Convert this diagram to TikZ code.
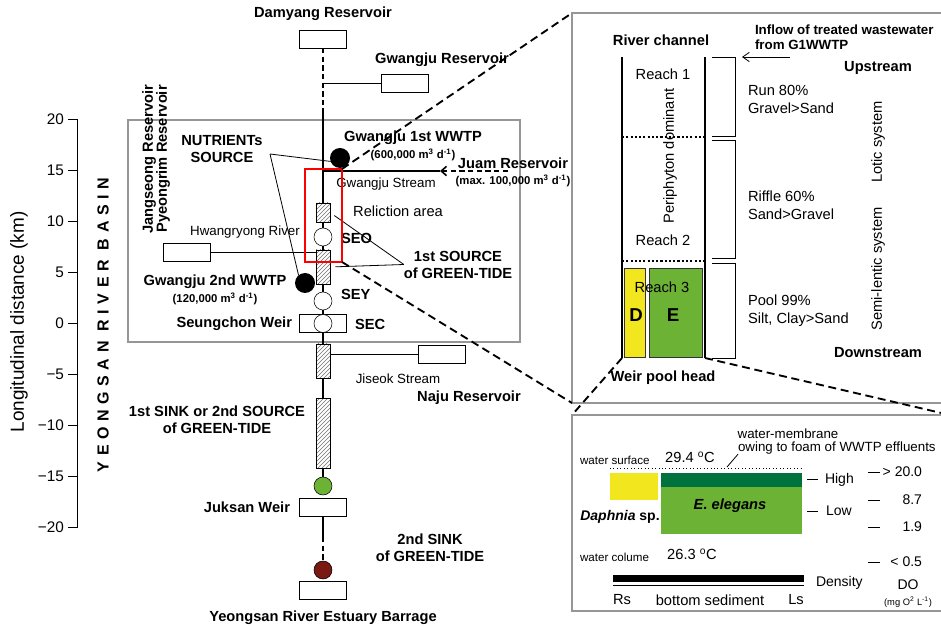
\documentclass[tikz,border=0pt]{standalone}
\usepackage{fontspec}
\setmainfont{Liberation Sans}
\newfontfamily\spacedfont[LetterSpace=35]{Liberation Sans}
\usetikzlibrary{patterns,arrows.meta}

\definecolor{algagreen}{RGB}{108,178,52}
\definecolor{filmgreen}{RGB}{0,114,62}
\definecolor{daphyellow}{RGB}{242,230,30}
\definecolor{sinkred}{RGB}{122,24,18}
\definecolor{framegrey}{RGB}{150,150,150}

\begin{document}
\begin{tikzpicture}[x=0.75pt, y=-0.75pt,
    every node/.style={inner sep=0pt, outer sep=0pt},
    lbl/.style={font=\bfseries\fontsize{11}{12.75}\selectfont, align=center},
    txt/.style={font=\fontsize{11}{13.5}\selectfont, align=left},
    scaletxt/.style={font=\fontsize{10.5}{12}\selectfont},
    smalltxt/.style={font=\fontsize{10}{12}\selectfont},
    tinytxt/.style={font=\fontsize{8.7}{10}\selectfont},
    capacity/.style={font=\bfseries\fontsize{8.5}{10}\selectfont},
    weir/.style={draw, fill=white, minimum width=35.25pt, minimum height=13.5pt},
    site/.style={circle, draw, fill=white, minimum size=13.5pt},
    wwtp/.style={circle, fill=black, minimum size=15pt},
    hatchbox/.style={draw, pattern=north east lines, pattern color=black!55, minimum width=10.5pt},
    river/.style={line width=1.4pt},
    riverdash/.style={line width=1.4pt, dash pattern=on 4pt off 2.5pt},
    zoomline/.style={line width=1.4pt, dash pattern=on 6pt off 3.5pt},
    thinline/.style={line width=0.6pt},
    channel/.style={line width=1.3pt},
    reachline/.style={line width=1.6pt, dash pattern=on 1.6pt off 1.6pt},
]
    \useasboundingbox (0,0) rectangle (941,630);
    \clip (0,0) rectangle (941,630);

    % variables
    \def\rivx{323}   % river course
    \def\kmzero{323} % 0 km on the axis
    \def\kmstep{10.2}

    % Axis of longitudinal distance
    \draw[thinline] (77,119) -- (77,528);
    \foreach \v/\t in {20/20,15/15,10/10,5/5,0/0,-5/−5,-10/−10,-15/−15,-20/−20}
        \draw[thinline] (68,{\kmzero-\kmstep*\v}) -- (77,{\kmzero-\kmstep*\v})
            node[pos=0, anchor=east, xshift=-3pt, font=\fontsize{11.5}{13}\selectfont] {\t};
    \node[rotate=90, font=\fontsize{14.2}{16}\selectfont] (axtitle) at (19,322) {Longitudinal distance (km)};
    \node[rotate=90, font=\spacedfont\bfseries\fontsize{12}{14}\selectfont] (basin) at (103,325) {YEONGSAN RIVER BASIN};

    % Grey frame round the upper basin
    \draw[framegrey, line width=0.8pt] (128,120) rectangle (520,342);

    % Reservoirs, weirs and sites along the river
    \node[weir] (damyang) at (\rivx,39) {};
    \node[lbl] (damlbl) at (\rivx,14) {Damyang Reservoir};
    \node[weir] (gwrsv) at (404.5,83) {};
    \node[lbl] (gwrlbl) at (442,60) {Gwangju Reservoir};
    \node[wwtp] (gw1) at (340,158) {};
    \node[lbl] (gw1lbl) at (413,138) {Gwangju 1st WWTP};
    \node[capacity] (gw1cap) at (413,155) {(600,000 m\textsuperscript{3} d\textsuperscript{-1})};
    \node[lbl] (juamlbl) at (513,163) {Juam Reservoir};
    \node[capacity] (juamcap) at (513,181) {(max. 100,000 m\textsuperscript{3} d\textsuperscript{-1})};
    \node[smalltxt] (gwstream) at (386,184) {Gwangju Stream};

    \node[hatchbox, minimum height=14.25pt] (hat1) at (\rivx,212.5) {};
    \node[txt] (reliction) at (398,211) {Reliction area};
    \node[site] (seo) at (\rivx,237) {};
    \node[lbl, anchor=west] (seolbl) at (341,238) {SEO};
    \node[hatchbox, minimum height=25.5pt] (hat2) at (\rivx,267) {};
    \node[site] (sey) at (\rivx,301) {};
    \node[lbl, anchor=west] (seylbl) at (341,294) {SEY};
    \node[weir] (secweir) at (\rivx,323.5) {};
    \node[site] (sec) at (\rivx,323.5) {};
    \node[lbl, anchor=west] (seclbl) at (355,324) {SEC};
    \node[lbl, anchor=east] (seungchon) at (292,324) {Seungchon Weir};

    \node[wwtp] (gw2) at (305,283) {};
    \node[lbl] (gw2lbl) at (215,282) {Gwangju 2nd WWTP};
    \node[capacity] (gw2cap) at (215,299) {(120,000 m\textsuperscript{3} d\textsuperscript{-1})};

    \node[weir] (hwang) at (186.5,252) {};
    \node[smalltxt] (hwanglbl) at (245,232) {Hwangryong River};
    \node[lbl, rotate=90] (jangseong) at (149,159) {Jangseong Reservoir};
    \node[lbl, rotate=90] (pyeongrim) at (163,159) {Pyeongrim Reservoir};
    \node[lbl] (nutrlbl) at (222,149.5) {NUTRIENTs\\SOURCE};
    \node[lbl] (srclbl) at (458,264.5) {1st SOURCE\\of GREEN-TIDE};

    \node[hatchbox, minimum height=25.5pt] (hat3) at (\rivx,361) {};
    \node[weir] (jiseok) at (442,354) {};
    \node[smalltxt] (jiseoklbl) at (398,379) {Jiseok Stream};
    \node[lbl] (naju) at (469,398) {Naju Reservoir};
    \node[hatchbox, minimum height=52.5pt] (hat4) at (\rivx,433) {};
    \node[lbl] (sink1) at (217,419.5) {1st SINK or 2nd SOURCE\\of GREEN-TIDE};
    \node[site, fill=algagreen] (juksite) at (\rivx,486) {};
    \node[weir] (juksan) at (\rivx,507) {};
    \node[lbl, anchor=east] (juksanlbl) at (290,507) {Juksan Weir};
    \node[lbl] (sink2) at (430,548) {2nd SINK\\of GREEN-TIDE};
    \node[site, fill=sinkred] (estsite) at (\rivx,570) {};
    \node[weir] (barrage) at (\rivx,590) {};
    \node[lbl] (barragelbl) at (\rivx,618) {Yeongsan River Estuary Barrage};

    % River course
    \coordinate (rivdash) at (\rivx,108);
    \coordinate (gwjoin) at (\rivx,83);
    \coordinate (gsjoin) at (\rivx,171);
    \coordinate (juamend) at (440,171);
    \coordinate (juamstart) at (508,171);
    \coordinate (lowdash) at (\rivx,537);
    \draw[riverdash] (damyang.south) -- (rivdash);
    \draw[river] (rivdash) -- (hat1.north);
    \draw[river] (hat1.south) -- (seo.north);
    \draw[river] (seo.south) -- (hat2.north);
    \draw[river] (hat2.south) -- (sey.north);
    \draw[river] (sey.south) -- (sec.north);
    \draw[river] (sec.south) -- (hat3.north);
    \draw[river] (hat3.south) -- (hat4.north);
    \draw[river] (hat4.south) -- (juksite.north);
    \draw[river] (juksan.south) -- (lowdash);
    \draw[riverdash] (lowdash) -- (estsite.north);

    % Tributaries
    \draw[thinline] (gwjoin) -- (gwrsv.west);
    \draw[thinline] (hwang.east) -- (hwang.east -| hat2.west);
    \draw[thinline] (hat3.east |- jiseok.west) -- (jiseok.west);
    \draw[line width=1pt] (gsjoin) -- (juamend);
    \draw[line width=1.2pt, dash pattern=on 4pt off 2.5pt, -{Straight Barb[length=4pt,width=7pt]}] (juamstart) -- (juamend);

    % Leaders
    \coordinate (nutrtip) at (270,154);
    \draw[thinline] (nutrtip) -- (gw1.200);
    \draw[thinline] (nutrtip) -- (gw2.130);
    \draw[thinline, shorten >=4pt] (srclbl.west) -- (hat1.east);
    \draw[thinline, shorten >=4pt] (srclbl.west) -- (hat2.east);

    % Zoom from the reach
    \coordinate (zb1) at (305,169);
    \coordinate (zb2) at (342,262);
    \draw[red, line width=0.9pt] (zb1) rectangle (zb2);
    \coordinate (up1) at (572,13);
    \coordinate (up2) at (950,403);
    \draw[framegrey, line width=0.8pt] (up1) rectangle (up2);
    \draw[zoomline] (zb2 |- zb1) -- (up1);
    \draw[zoomline] (zb2) -- (up1 |- up2);

    % Upper panel: river channel
    \coordinate (chtl) at (622,57);
    \coordinate (chtr) at (705,57);
    \coordinate (chbl) at (622,358);
    \coordinate (chbr) at (705,358);
    \node[draw=black!80, fill=daphyellow, minimum width=15.75pt, minimum height=66.75pt] (dbox) at (634.5,312.5) {};
    \node[draw=black!80, fill=algagreen, minimum width=39.75pt, minimum height=66.75pt] (ebox) at (675.5,312.5) {};
    \node[font=\bfseries\fontsize{14}{16}\selectfont] (dlbl) at (636,315) {D};
    \node[font=\bfseries\fontsize{14}{16}\selectfont] (elbl) at (673,315) {E};
    \draw[channel] (chtl) -- (chbl);
    \draw[channel] (chtr) -- (chbr);
    \draw[reachline] (622,137) -- (705,137);
    \draw[reachline] (622,261) -- (705,261);
    \node[lbl] (chlbl) at (661,40) {River channel};
    \node[txt] (reach1) at (663,74) {Reach 1};
    \node[txt] (reach2) at (663,240) {Reach 2};
    \node[txt] (reach3) at (662,287) {Reach 3};
    \node[txt, rotate=90] (periphyton) at (670,156) {Periphyton dominant};
    \foreach \ya/\yb in {57/136, 140/258, 263/358}
        \draw[thinline] (712,\ya) -| (735,\yb) -- (712,\yb);
    \node[lbl, align=left, anchor=west, font=\bfseries\fontsize{10}{11.25}\selectfont] (inflow) at (755,37.5) {Inflow of treated wastewater\\from G1WWTP};
    \coordinate (inflowstart) at (790,57);
    \coordinate (inflowend) at (742,57);
    \draw[thinline, -{Straight Barb[length=5pt,width=7pt]}] (inflowstart) -- (inflowend);
    \node[lbl] (upstream) at (878,68) {Upstream};
    \node[txt, anchor=west] (run) at (748,99) {Run 80\%\\Gravel>Sand};
    \node[txt, anchor=west] (riffle) at (748,205.5) {Riffle 60\%\\Sand>Gravel};
    \node[txt, anchor=west] (pool) at (748,310.5) {Pool 99\%\\Silt, Clay>Sand};
    \node[txt, rotate=90] (lotic) at (878,142) {Lotic system};
    \node[txt, rotate=90] (lentic) at (878,269) {Semi-lentic system};
    \node[lbl] (downstream) at (878,353) {Downstream};
    \node[lbl] (weirhead) at (663,378) {Weir pool head};

    % Lower panel: water column at the weir pool head
    \coordinate (lo1) at (572,415);
    \coordinate (lo2) at (950,611);
    \draw[framegrey, line width=0.8pt] (lo1) rectangle (lo2);
    \draw[zoomline] (chbl) -- (lo1);
    \draw[zoomline] (chbr) -- (lo2 |- lo1);

    \node[tinytxt, anchor=west] (surface) at (580,460) {water surface};
    \node[txt] (tsurf) at (690,457) {29.4 \textsuperscript{o}C};
    \node[smalltxt] (membrane) at (788,434) {water-membrane};
    \node[smalltxt, anchor=west] (owing) at (738,448) {owing to foam of WWTP effluents};
    \coordinate (filmpt) at (727,467);
    \draw[thinline] (filmpt) -- (owing.south west);
    \draw[thinline, dotted] (610,468) -- (802,468);
    \node[fill=daphyellow, minimum width=36pt, minimum height=20.25pt] (daphbox) at (634,486.5) {};
    \node[fill=filmgreen, minimum width=105.75pt, minimum height=10.5pt] (filmbox) at (731.5,480) {};
    \node[fill=algagreen, minimum width=105.75pt, minimum height=35.25pt] (algabox) at (731.5,510.5) {};
    \node[font=\bfseries\itshape\fontsize{11}{13}\selectfont] (elegans) at (730,506) {E. elegans};
    \node[font=\bfseries\fontsize{10.5}{12}\selectfont] (daphnia) at (620,517) {\itshape Daphnia\upshape{} sp.};
    \draw[thinline] (807,479) -- (818,479);
    \node[scaletxt, anchor=west] (high) at (825,480) {High};
    \draw[thinline] (807,511) -- (818,511);
    \node[scaletxt, anchor=west] (low) at (826,511) {Low};
    \foreach \y/\t in {472/{> 20.0}, 500/8.7, 527/1.9, 562/{< 0.5}} {
        \draw[thinline] (868,\y) -- (880,\y);
        \node[scaletxt, anchor=east] at (922,\y) {\t};
    }
    \node[tinytxt, anchor=west] (column) at (580,557) {water colume};
    \node[txt] (tcol) at (692,554) {26.3 \textsuperscript{o}C};
    \fill (613,575) rectangle (804,582);
    \draw[thinline] (613,585.5) -- (804,585.5);
    \node[scaletxt, anchor=west] (density) at (816,583) {Density};
    \node[scaletxt] (dolbl) at (908,585) {DO};
    \node[font=\fontsize{7}{8}\selectfont] (dounit) at (908,602) {(mg O\textsuperscript{2} L\textsuperscript{-1})};
    \node[txt] (rs) at (622,600) {Rs};
    \node[txt] (sediment) at (710,600) {bottom sediment};
    \node[txt] (ls) at (796,600) {Ls};

\end{tikzpicture}
\end{document}
